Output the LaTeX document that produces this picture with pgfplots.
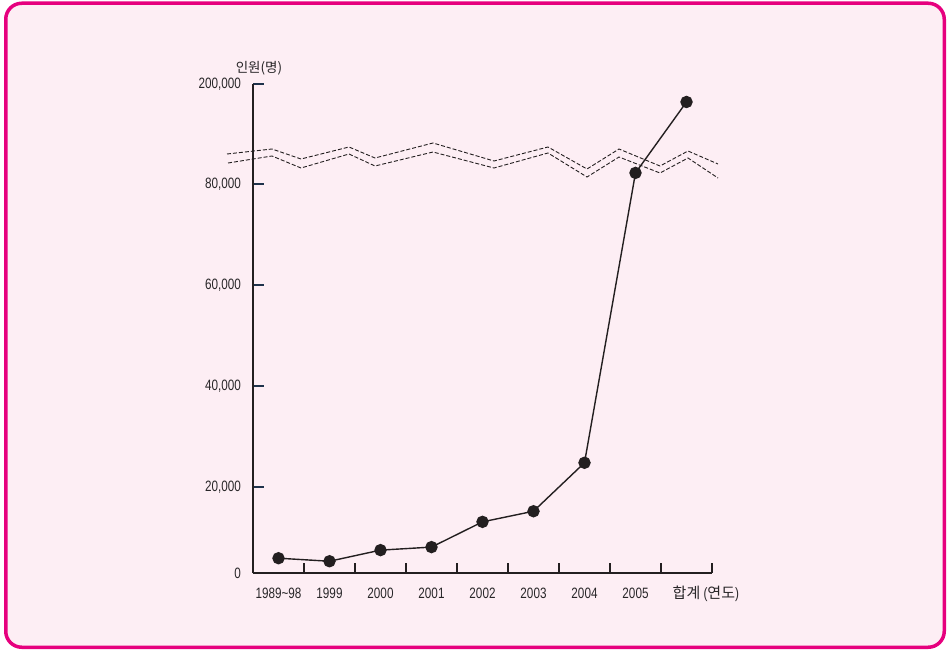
\documentclass[border=0pt]{standalone}
\usepackage{pgfplots}
\pgfplotsset{compat=1.18}
\usepackage{fontspec}
\setmainfont{Liberation Sans}[FakeStretch=0.78]
\newfontfamily\kr{Noto Sans CJK KR}
\definecolor{framepink}{RGB}{230,0,126}
\definecolor{bgpink}{RGB}{253,238,244}
\definecolor{ink}{RGB}{35,31,32}
\definecolor{txt}{RGB}{40,38,40}
\definecolor{tickblue}{RGB}{30,50,75}
\begin{document}
\begin{tikzpicture}[x=1pt,y=1pt]
\useasboundingbox (0,0) rectangle (947,649);
\draw[line width=3.5pt, framepink, fill=bgpink, rounded corners=16pt]
  (5.75,1.75) rectangle (944.25,645.75);
\begin{axis}[
    at={(253pt,76pt)}, anchor=south west,
    scale only axis,
    width=459pt, height=489pt,
    xmin=-0.5, xmax=8.5,
    ymin=2970, ymax=200000,
    % compress everything above the break (about 86,000)
    y coord trafo/.code={\begingroup
      \pgfkeys{/pgf/fpu=true,/pgf/fpu/output format=fixed}%
      \pgfmathparse{(#1>86000)*(86000+(#1-86000)*0.12107)+(#1<=86000)*#1}%
      \pgfmathsmuggle\pgfmathresult\endgroup},
    scaled y ticks=false,
    /pgf/number format/assume math mode=true,
    axis x line=bottom, axis y line=left,
    axis line style={-, ink, line width=1.6pt},
    tick align=inside,
    xtick={0,...,8},
    xticklabels={1989\textasciitilde98,1999,2000,2001,2002,2003,2004,2005,{{\kr 합계}\rlap{ ({\kr 연도})}}},
    minor xtick={0.5,1.5,...,8.5},
    major x tick style={draw=none},
    minor x tick style={ink, line width=1.3pt},
    minor tick length=10pt,
    major tick length=11pt,
    ytick={2970,20000,40000,60000,80000,200000},
    yticklabels={0,{20,000},{40,000},{60,000},{80,000},{200,000}},
    major y tick style={tickblue, line width=1.3pt},
    tick label style={font=\fontsize{15}{18}\selectfont, text=txt},
    xticklabel style={anchor=base, inner sep=0pt, yshift=-25pt},
    yticklabel style={anchor=east, inner sep=0pt, xshift=-12pt},
    clip=false,
]
\addplot[ink, line width=1.4pt, mark=*, mark size=5.5pt, mark options={fill=ink, draw=ink}]
  coordinates {(0,5900) (1,5300) (2,7500) (3,8100) (4,13100) (5,15200) (6,24800) (7,82200) (8,170600)};
\end{axis}
% axis break marks
\draw[ink, line width=0.9pt, dash pattern=on 4pt off 2pt]
  (227,495)--(272,500)--(301,490)--(349,502)--(375,491)--(433,506)--(494,488)--(548,502)--(587,480)--(619,500)--(660,483)--(688,498)--(718,485);
\draw[ink, line width=0.9pt, dash pattern=on 4pt off 2pt]
  (228,486)--(272,493)--(301,481)--(349,495)--(375,483)--(433,497)--(494,481)--(548,496)--(587,472)--(619,492)--(660,476)--(688,491)--(718,471);
\node[anchor=base, inner sep=0pt, text=txt, font=\kr\fontsize{13.5}{16}\selectfont] at (259,576) {인원(명)};
\end{tikzpicture}
\end{document}
